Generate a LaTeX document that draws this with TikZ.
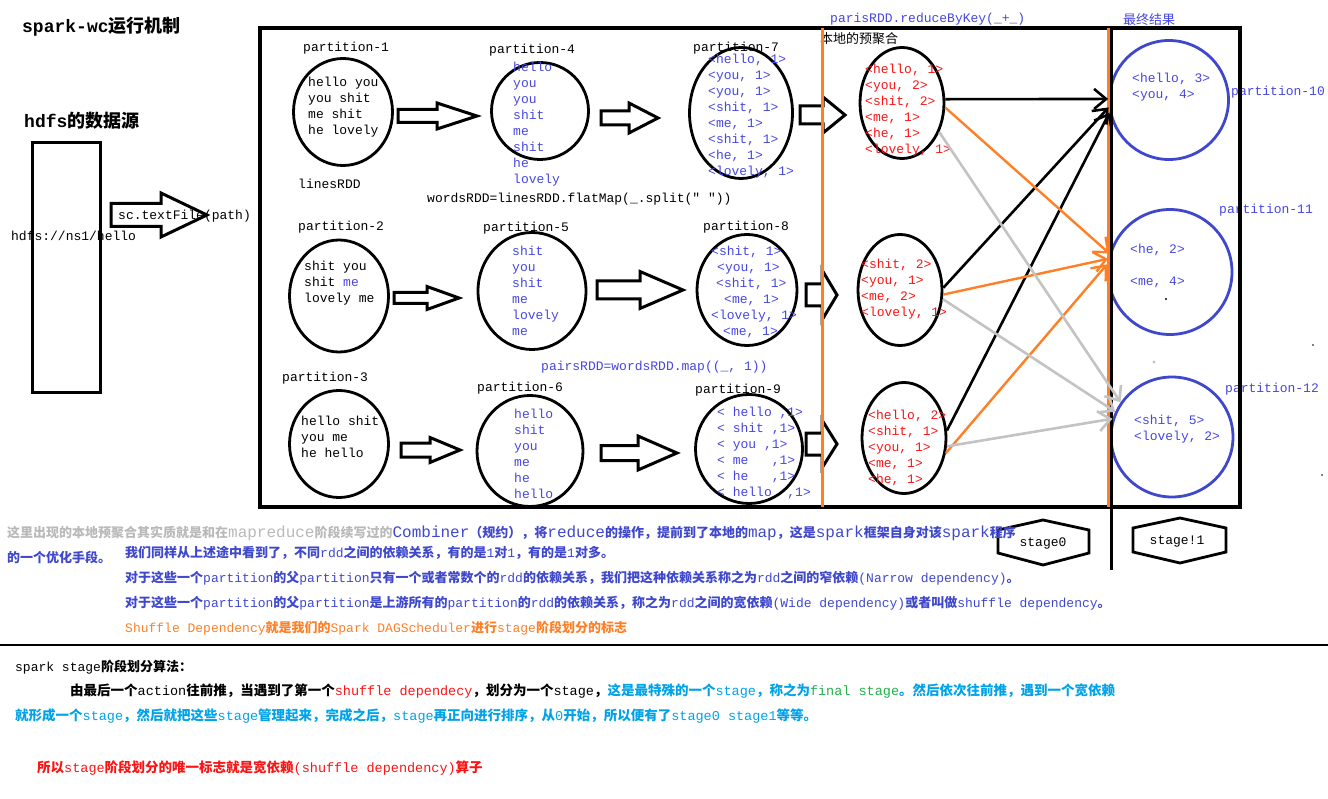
\documentclass[tikz,border=0pt]{standalone}
\usepackage{fontspec}
\setmainfont{Liberation Mono}[Ligatures=TeXOff]
\newfontfamily\cjk{Noto Sans CJK SC}
\usetikzlibrary{arrows.meta,shapes.geometric}

\definecolor{tblue}{RGB}{70,70,225}
\definecolor{cblue}{RGB}{63,72,204}
\definecolor{sorange}{RGB}{255,127,39}
\definecolor{sgray}{RGB}{195,195,195}
\definecolor{tgray}{RGB}{185,185,185}
\definecolor{tred}{RGB}{250,20,20}
\definecolor{tcyan}{RGB}{0,162,232}
\definecolor{tgreen}{RGB}{34,177,76}

% chinese characters switch to the cjk family
\XeTeXinterchartokenstate=1
\newXeTeXintercharclass\zhclass
\newcount\zhc
\def\zhrange#1#2{\zhc=#1\relax
  \loop\XeTeXcharclass\zhc=\zhclass\ifnum\zhc<#2\advance\zhc by 1\repeat}
\zhrange{"3000}{"303F}
\zhrange{"4E00}{"9FFF}
\zhrange{"FF00}{"FFEF}
\def\zhfont{\cjk}
\def\enfont{\rmfamily}
\XeTeXinterchartoks 0 \zhclass = {\zhfont}
\XeTeXinterchartoks 4095 \zhclass = {\zhfont}
\XeTeXinterchartoks \zhclass 0 = {\enfont}
\XeTeXinterchartoks \zhclass 4095 = {\enfont}
\XeTeXinterchartoks 4095 0 = {\enfont}

\newcommand{\fatarrow}[6]{\draw[fat] (#1,#4-#5) -- (#2,#4-#5) -- (#2,#4-#6) -- (#3,#4)
  -- (#2,#4+#6) -- (#2,#4+#5) -- (#1,#4+#5) -- cycle;}

\begin{document}
\begin{tikzpicture}[x=1pt,y=-1pt,
  lbl/.style={inner sep=0pt,anchor=west,text height=9pt,text depth=0pt,font=\fontsize{13}{16}\selectfont},
  ttl/.style={lbl,text height=12pt,font=\fontsize{18}{20}\selectfont\bfseries},
  blk/.style={inner sep=0pt,anchor=north west,align=left,font=\fontsize{13}{16}\selectfont},
  zh/.style={lbl,font=\fontsize{#1}{16}\selectfont\def\zhfont{\cjk\bfseries}\def\enfont{\rmfamily\mdseries}},
  part/.style={draw,ellipse,line width=2.8pt,inner sep=0pt},
  res/.style={draw=cblue,ellipse,line width=2.8pt,inner sep=0pt},
  fat/.style={draw,line width=3pt,line join=miter},
  hexa/.style={draw,line width=2.8pt,line join=miter},
  shuf/.style={line width=2.6pt,-{Straight Barb[length=12pt,width=20pt]}}]
\useasboundingbox (0,0) rectangle (1328,799);

\node[ttl] (title) at (22,27) {spark-wc运行机制};
\node[ttl] (src) at (24,122) {hdfs的数据源};
\draw[line width=3pt] (32,143) rectangle (100,393);
\fatarrow{111}{161}{207}{215}{11.5}{22}
\node[lbl] (path) at (11,236) {hdfs://ns1/hello};
\node[lbl] (tf) at (118,215) {sc.textFile(path)};

% partitions
\node[part,minimum width=99pt,minimum height=107pt] (e1) at (343,112) {};
\node[part,minimum width=97pt,minimum height=97pt] (e4) at (540,111) {};
\node[part,minimum width=103pt,minimum height=131pt] (e7) at (741,113) {};
\node[part,minimum width=99pt,minimum height=112pt] (e2) at (339,296) {};
\node[part,minimum width=108pt,minimum height=117pt] (e5) at (532,291) {};
\node[part,minimum width=100pt,minimum height=111pt] (e8) at (747,290) {};
\node[part,minimum width=99pt,minimum height=107pt] (e3) at (339,444) {};
\node[part,minimum width=106pt,minimum height=111pt] (e6) at (530,451) {};
\node[part,minimum width=107pt,minimum height=109pt] (e9) at (749,449) {};
\node[part,minimum width=84pt,minimum height=111pt] (r1) at (902,103) {};
\node[part,minimum width=84pt,minimum height=111pt] (r2) at (900,290) {};
\node[part,minimum width=84pt,minimum height=111pt] (r3) at (904,438) {};
\node[res,minimum width=119pt,minimum height=119pt] (b1) at (1169,100) {};
\node[res,minimum width=124pt,minimum height=125pt] (b2) at (1170,272) {};
\node[res,minimum width=122pt,minimum height=120pt] (b3) at (1172,437) {};

\node[lbl] (p1) at (303,47) {partition-1};
\node[lbl] (p4) at (489,49) {partition-4};
\node[lbl] (p7) at (693,47) {partition-7};
\node[lbl] (p2) at (298,226) {partition-2};
\node[lbl] (p5) at (483,227) {partition-5};
\node[lbl] (p8) at (703,226) {partition-8};
\node[lbl] (p3) at (282,377) {partition-3};
\node[lbl] (p6) at (477,387) {partition-6};
\node[lbl] (p9) at (695,389) {partition-9};
\node[lbl,text=tblue] (p10) at (1231,91) {partition-10};
\node[lbl,text=tblue] (p11) at (1219,209) {partition-11};
\node[lbl,text=tblue] (p12) at (1225,388) {partition-12};

\node[blk] (t1) at (308,75) {\strut hello you\\you shit\\me shit\\he lovely};
\node[blk,text=tblue] (t4) at (513,60) {\strut hello\\you\\you\\shit\\me\\shit\\he\\lovely};
\node[blk,text=tblue] (t7) at (708,52) {\strut <hello, 1>\\<you, 1>\\<you, 1>\\<shit, 1>\\<me, 1>\\<shit, 1>\\<he, 1>\\<lovely, 1>};
\node[blk] (t2) at (304,259) {\strut shit you\\shit {\color{tblue}me}\\lovely me};
\node[blk,text=tblue] (t5) at (512,244) {\strut shit\\you\\shit\\me\\lovely\\me};
\node[blk,text=tblue] (t8) at (711,244) {\strut <shit, 1>\\\hspace*{6pt}<you, 1>\\\hspace*{5pt}<shit, 1>\\\hspace*{13pt}<me, 1>\\<lovely, 1>\\\hspace*{12pt}<me, 1>};
\node[blk] (t3) at (301,414) {\strut hello shit\\you me\\he hello};
\node[blk,text=tblue] (t6) at (514,407) {\strut hello\\shit\\you\\me\\he\\hello};
\node[blk,text=tblue] (t9) at (717,405) {\strut <~hello~,1>\\<~shit~,1>\\<~you~,1>\\<~me~~~,1>\\<~he~~~,1>\\<~hello~~,1>};
\node[blk,text=tred] (tr1) at (865,62) {\strut <hello, 1>\\<you, 2>\\<shit, 2>\\<me, 1>\\<he, 1>\\<lovely, 1>};
\node[blk,text=tred] (tr2) at (861,257) {\strut <shit, 2>\\<you, 1>\\<me, 2>\\<lovely, 1>};
\node[blk,text=tred] (tr3) at (868,408) {\strut <hello, 2>\\<shit, 1>\\<you, 1>\\<me, 1>\\<he, 1>};
\node[blk,text=tblue] (tb1) at (1132,71) {\strut <hello, 3>\\<you, 4>};
\node[blk,text=tblue] (tb2) at (1130,242) {\strut <he, 2>\\[16pt]<me, 4>};
\node[blk,text=tblue] (tb3) at (1134,413) {\strut <shit, 5>\\<lovely, 2>};

\node[lbl] (lines) at (298,184) {linesRDD};
\node[lbl] (words) at (427,198) {wordsRDD=linesRDD.flatMap(\_.split(" "))};
\node[lbl,text=tblue] (pairs) at (541,366) {pairsRDD=wordsRDD.map((\_, 1))};
\node[lbl,text=tblue] (reduce) at (830,18) {parisRDD.reduceByKey(\_+\_)};
\node[lbl] (local) at (820,39) {本地的预聚合};
\node[lbl,text=tblue] (final) at (1123,20) {最终结果};

\fatarrow{398}{437}{477}{116}{6.5}{13}
\fatarrow{601}{629}{658}{118}{7}{15}
\fatarrow{800}{823}{845}{115}{9}{18}
\fatarrow{394}{427}{459}{298}{5.5}{11.5}
\fatarrow{597}{640}{683}{290}{9}{18.5}
\fatarrow{806}{822}{837}{295}{11}{25}
\fatarrow{401}{430}{460}{450}{7}{12.5}
\fatarrow{601}{638}{677}{453}{7.5}{17}
\fatarrow{806}{822}{837}{444}{11}{24}

\draw[line width=3.5pt] (260,28) rectangle (1240,507);
\draw[sorange,line width=3pt] (822,28) -- (822,507);
\draw[sorange,line width=3.5pt] (1108.5,28) -- (1108.5,507);
\draw[line width=2.2pt] (1111.5,28) -- (1111.5,570);

% shuffle
\draw[shuf] (r1.5) -- (b1.179);
\draw[shuf] (r2.3) -- (b1.187);
\draw[shuf] (r3.10) -- (b1.192);
\draw[shuf,sorange,line width=2.4pt] (r1.-6) -- (b2.163);
\draw[shuf,sorange,line width=2.4pt] (r2.-6) -- (b2.168);
\draw[shuf,sorange,line width=2.4pt] (r3.-20) -- (b2.173);
\draw[shuf,sgray] (r1.-38) -- (b3.146);
\draw[shuf,sgray] (r2.-12) -- (b3.156);
\draw[shuf,sgray] (r3.-11) -- (b3.163);

\fill (1166,299) circle (1.2pt);
\fill[sgray] (1154,362) circle (1.6pt);
\fill (1313,345) circle (0.8pt);
\fill (1322,475) circle (0.8pt);

\draw[hexa] (998,530) -- (1043,520) -- (1089,530) -- (1089,553) -- (1043,565) -- (998,553) -- cycle;
\node[lbl,anchor=center] (s0) at (1043,542) {stage0};
\draw[hexa] (1133,528) -- (1180,518) -- (1226,528) -- (1226,552) -- (1180,563) -- (1133,552) -- cycle;
\node[lbl,anchor=center] (s1) at (1177,540) {stage!1};

\node[lbl,font=\fontsize{13}{16}\selectfont\def\zhfont{\cjk\bfseries\fontsize{13}{16}\selectfont}\def\enfont{\rmfamily\mdseries\fontsize{16}{16}\selectfont}] (n1) at (7,533)
  {\textcolor{tgray}{这里出现的本地预聚合其实质就是和在mapreduce阶段续写过的}\textcolor{cblue}{Combiner（规约），将reduce的操作，提前到了本地的map，这是spark框架自身对该spark程序}};
\node[zh=13,text=cblue] (n1b) at (7,558) {的一个优化手段。};
\node[zh=13,text=cblue] (n2) at (125,553) {我们同样从上述途中看到了，不同rdd之间的依赖关系，有的是1对1，有的是1对多。};
\node[zh=13,text=cblue] (n3) at (125,578) {对于这些一个partition的父partition只有一个或者常数个的rdd的依赖关系，我们把这种依赖关系称之为rdd之间的窄依赖(Narrow dependency)。};
\node[zh=13,text=cblue] (n4) at (125,603) {对于这些一个partition的父partition是上游所有的partition的rdd的依赖关系，称之为rdd之间的宽依赖(Wide dependency)或者叫做shuffle dependency。};
\node[zh=13,text=sorange] (n5) at (125,628) {Shuffle Dependency就是我们的Spark DAGScheduler进行stage阶段划分的标志};

\draw[line width=2pt] (0,645) -- (1328,645);

\node[zh=13] (a1) at (15,667) {spark stage阶段划分算法：};
\node[zh=13.5] (a2) at (70,691) {由最后一个action往前推，当遇到了第一个\textcolor{tred}{shuffle dependecy}，划分为一个stage，\textcolor{tcyan}{这是最特殊的一个stage，称之为}\textcolor{tgreen}{final stage}\textcolor{tcyan}{。然后依次往前推，遇到一个宽依赖}};
\node[zh=13.5,text=tcyan] (a3) at (15,716) {就形成一个stage，然后就把这些stage管理起来，完成之后，stage再正向进行排序，从0开始，所以便有了stage0 stage1等等。};
\node[zh=13.5,text=tred] (a4) at (37,768) {所以stage阶段划分的唯一标志就是宽依赖(shuffle dependency)算子};
\end{tikzpicture}
\end{document}
